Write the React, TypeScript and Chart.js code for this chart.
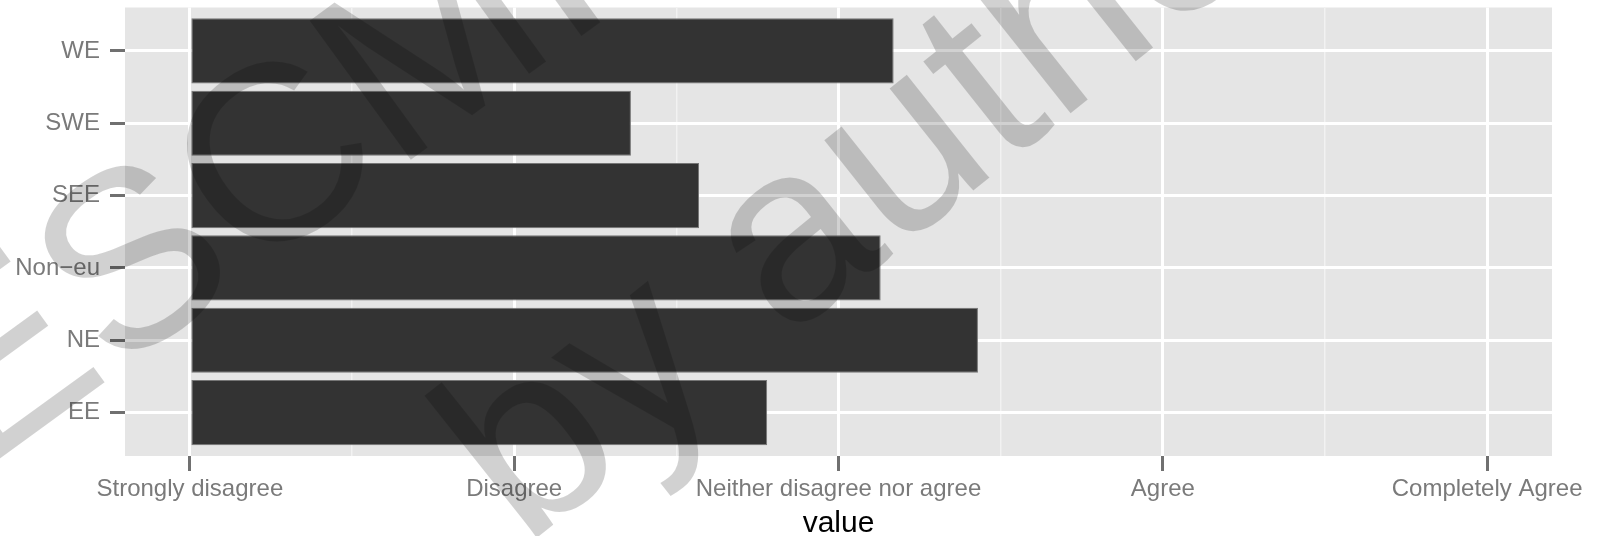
import React, { useEffect, useRef } from 'react';
import { Chart, registerables } from 'chart.js';

Chart.register(...registerables);

// ---- data ----
const categories = ['WE', 'SWE', 'SEE', 'Non\u2212eu', 'NE', 'EE'];
const meanValues = [3.17, 2.36, 2.57, 3.13, 3.43, 2.78];
const scaleLabels = ['Strongly disagree', 'Disagree', 'Neither disagree nor agree', 'Agree', 'Completely Agree'];
const axisTitle = 'value';
const watermarkLines = ['ESCMID eLibrary', 'by author'];

const FONT = "'Liberation Sans', Arial, Helvetica, sans-serif";

const panelBackground = {
  id: 'panelBackground',
  beforeDraw(chart: any) {
    const { ctx, chartArea } = chart;
    ctx.save();
    ctx.fillStyle = '#e5e5e5';
    ctx.fillRect(chartArea.left, chartArea.top, chartArea.right - chartArea.left, chartArea.bottom - chartArea.top);
    ctx.restore();
  },
};

const watermark = {
  id: 'watermark',
  afterDraw(chart: any) {
    const ctx = chart.ctx;
    const placements = [
      { x: -21.6, y: 474, angle: 36 },
      { x: 524, y: 548, angle: 38.5 },
    ];
    ctx.save();
    ctx.fillStyle = 'rgba(0,0,0,0.18)';
    ctx.font = `250px ${FONT}`;
    ctx.textAlign = 'left';
    ctx.textBaseline = 'alphabetic';
    watermarkLines.forEach((line, i) => {
      const p = placements[i];
      ctx.save();
      ctx.translate(p.x, p.y);
      ctx.rotate((-p.angle * Math.PI) / 180);
      ctx.fillText(line, 0, 0);
      ctx.restore();
    });
    ctx.restore();
  },
};

export default function App() {
  const ref = useRef<HTMLCanvasElement>(null);

  useEffect(() => {
    document.body.style.margin = '0';
    const canvas = ref.current;
    if (!canvas) return;

    const majorValues = scaleLabels.map((_, i) => i + 1);
    const xTickValues: number[] = [];
    majorValues.forEach((v, i) => {
      xTickValues.push(v);
      if (i < majorValues.length - 1) xTickValues.push(v + 0.5);
    });
    const isMajor = (v: any) => Number.isInteger(v);

    const chart = new Chart(canvas, {
      type: 'bar',
      data: {
        datasets: [
          {
            data: categories.map((_, i) => ({ x: meanValues[i], y: i })),
            base: 1,
            backgroundColor: '#333333',
            borderColor: '#767676',
            borderWidth: 1,
            borderSkipped: false,
            barPercentage: 0.9,
            categoryPercentage: 1,
          } as any,
        ],
      },
      options: {
        indexAxis: 'y',
        responsive: false,
        animation: false,
        layout: { padding: { top: 7.5, right: 48, left: 0, bottom: 0 } },
        plugins: { legend: { display: false }, tooltip: { enabled: false } },
        scales: {
          x: {
            type: 'linear',
            min: 0.8,
            max: 5.2,
            afterBuildTicks: (s: any) => {
              s.ticks = xTickValues.map((v) => ({ value: v }));
            },
            afterFit: (s: any) => {
              s.height = 80;
              s.paddingLeft = 0;
              s.paddingRight = 0;
            },
            border: { display: false },
            grid: {
              color: (c: any) => (isMajor(c.tick?.value) ? '#ffffff' : '#f2f2f2'),
              lineWidth: (c: any) => (isMajor(c.tick?.value) ? 3 : 1.5),
              tickColor: (c: any) => (isMajor(c.tick?.value) ? '#707070' : 'rgba(0,0,0,0)'),
              tickWidth: 3,
              tickLength: 15,
            },
            ticks: {
              autoSkip: false,
              maxRotation: 0,
              padding: 4,
              color: '#7a7a7a',
              font: { family: FONT, size: 24 },
              callback: (v: any) => (isMajor(v) ? scaleLabels[v - 1] : ''),
            },
            title: {
              display: true,
              text: axisTitle,
              color: '#000000',
              font: { family: FONT, size: 30, lineHeight: 0.8 },
              padding: { top: 0, bottom: 0 },
            },
          },
          y: {
            type: 'linear',
            reverse: true,
            offset: false,
            min: -0.6,
            max: categories.length - 0.4,
            afterBuildTicks: (s: any) => {
              s.ticks = categories.map((_, i) => ({ value: i }));
            },
            afterFit: (s: any) => {
              s.width = 125;
              s.paddingTop = 0;
              s.paddingBottom = 0;
            },
            border: { display: false },
            grid: {
              offset: false,
              color: '#ffffff',
              lineWidth: 3,
              tickColor: '#707070',
              tickWidth: 3,
              tickLength: 15,
            },
            ticks: {
              autoSkip: false,
              padding: 10,
              color: '#7a7a7a',
              font: { family: FONT, size: 24 },
              callback: (v: any) => categories[v] ?? '',
            },
          },
        },
      } as any,
      plugins: [panelBackground, watermark],
    });

    return () => chart.destroy();
  }, []);

  return (
    <div style={{ width: 1600, height: 536, background: '#ffffff' }}>
      <canvas ref={ref} width={1600} height={536} style={{ display: 'block', width: 1600, height: 536 }} />
    </div>
  );
}
